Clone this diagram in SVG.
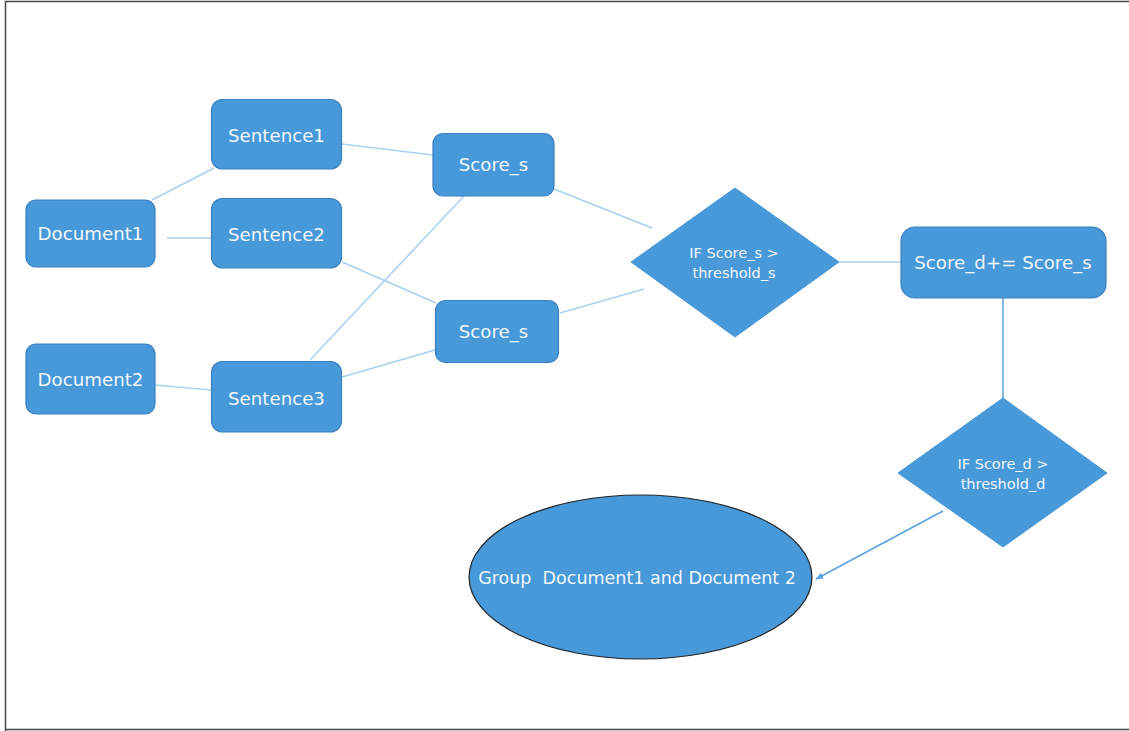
<svg xmlns="http://www.w3.org/2000/svg" width="1129" height="731" viewBox="0 0 1129 731">
<defs>
<style>
.box{fill:#4899d9;stroke:#3b7fbf;stroke-width:1.2}
.dia{fill:#4899d9;stroke:#4899d9;stroke-width:1}
.t{font-family:"DejaVu Sans",sans-serif;font-size:18.2px;fill:#f2f6fa;text-anchor:middle}
.te{font-family:"DejaVu Sans",sans-serif;font-size:17.5px;fill:#f2f6fa;text-anchor:middle}
.ts{font-family:"DejaVu Sans",sans-serif;font-size:14.5px;fill:#f2f6fa;text-anchor:middle}
.c{stroke:#a9d0f1;stroke-width:1.5;fill:none}
.c2{stroke:#5aa2e0;stroke-width:1.5;fill:none}
</style>
<marker id="ah" viewBox="0 0 10 10" refX="9" refY="5" markerWidth="8" markerHeight="8" orient="auto" markerUnits="userSpaceOnUse">
<path d="M0,1 L10,5 L0,9 z" fill="#5aa2e0"/>
</marker>
</defs>
<rect x="0" y="0" width="1129" height="731" fill="#fff"/>
<path d="M5.5,731 L5.5,1.5 L1129,1.5 M5.5,729.5 L1129,729.5" stroke="#444" stroke-width="1.5" fill="none"/>
<g id="connectors">
<line class="c" x1="152" y1="200" x2="214" y2="168"/>
<line class="c" x1="167" y1="238" x2="211" y2="238"/>
<line class="c" x1="342" y1="144" x2="433" y2="155"/>
<line class="c" x1="342" y1="262" x2="436" y2="303"/>
<line class="c" x1="310" y1="360" x2="464" y2="196"/>
<line class="c" x1="342" y1="377" x2="435" y2="350"/>
<line class="c" x1="155" y1="385" x2="211" y2="390"/>
<line class="c" x1="554" y1="189" x2="652" y2="228"/>
<line class="c" x1="560" y1="313" x2="644" y2="289"/>
<line class="c" x1="839" y1="262" x2="901" y2="262"/>
<line class="c2" x1="1003" y1="298" x2="1003" y2="398"/>
<line class="c2" x1="943" y1="511" x2="816" y2="579" marker-end="url(#ah)"/>
</g>
<g id="document1"><rect class="box" x="26" y="200" width="129" height="67" rx="10"/><text class="t" x="90.5" y="240">Document1</text></g>
<g id="document2"><rect class="box" x="26" y="344" width="129" height="70" rx="10"/><text class="t" x="90.5" y="386">Document2</text></g>
<g id="sentence1"><rect class="box" x="211.5" y="99.5" width="130" height="69.5" rx="11"/><text class="t" x="276.5" y="142">Sentence1</text></g>
<g id="sentence2"><rect class="box" x="211.5" y="198.5" width="130" height="69.5" rx="11"/><text class="t" x="276.5" y="241">Sentence2</text></g>
<g id="sentence3"><rect class="box" x="211.5" y="361.5" width="130" height="70.5" rx="11"/><text class="t" x="276.5" y="405">Sentence3</text></g>
<g id="score_s1"><rect class="box" x="433" y="133.5" width="121" height="62.5" rx="10"/><text class="t" x="493.5" y="171">Score_s</text></g>
<g id="score_s2"><rect class="box" x="435.5" y="300.5" width="123" height="62" rx="10"/><text class="t" x="493.5" y="338">Score_s</text></g>
<g id="decision_s"><polygon class="dia" points="735,188 839,262 735,337 631,262"/><text class="ts" x="734" y="258">IF Score_s &gt;</text><text class="ts" x="734" y="278">threshold_s</text></g>
<g id="score_d"><rect class="box" x="901" y="227" width="205" height="71" rx="14"/><text class="t" x="1003" y="269">Score_d+= Score_s</text></g>
<g id="decision_d"><polygon class="dia" points="1003,398 1107,473 1003,547 898,473"/><text class="ts" x="1003" y="469">IF Score_d &gt;</text><text class="ts" x="1003" y="489">threshold_d</text></g>
<g id="group"><ellipse cx="640.5" cy="577" rx="171.5" ry="82" fill="#4899d9" stroke="#222" stroke-width="1.2"/><text class="te" x="637" y="584" xml:space="preserve">Group  Document1 and Document 2</text></g>
</svg>
